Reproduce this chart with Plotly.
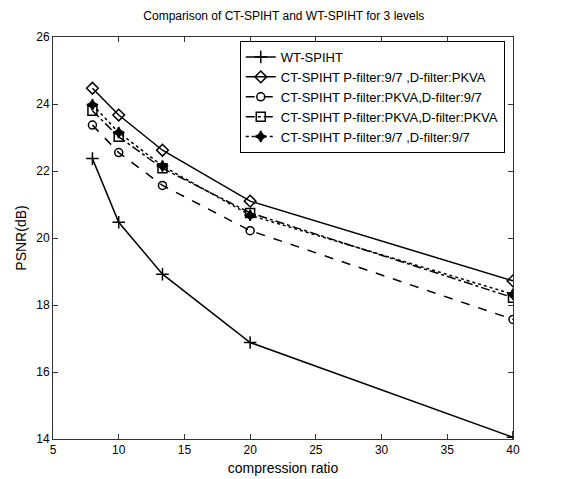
import plotly.graph_objects as go

# compression ratios
ratio = [8, 10, 13.33, 20, 40]

# PSNR(dB) for each method
wt_spiht = [22.37, 20.47, 18.92, 16.88, 14.05]
ct_97_pkva = [24.47, 23.67, 22.62, 21.10, 18.72]
ct_pkva_97 = [23.37, 22.55, 21.57, 20.22, 17.57]
ct_pkva_pkva = [23.80, 23.02, 22.08, 20.75, 18.22]
ct_97_97 = [23.98, 23.15, 22.15, 20.68, 18.32]

names = ["WT-SPIHT",
         "CT-SPIHT P-filter:9/7 ,D-filter:PKVA",
         "CT-SPIHT P-filter:PKVA,D-filter:9/7",
         "CT-SPIHT P-filter:PKVA,D-filter:PKVA",
         "CT-SPIHT P-filter:9/7 ,D-filter:9/7"]

series = [wt_spiht, ct_97_pkva, ct_pkva_97, ct_pkva_pkva, ct_97_97]
dashes = ["solid", "solid", "dash", "dashdot", "dot"]
symbols = ["cross-thin-open", "diamond-open", "circle-open", "square-open", "star-diamond"]
sizes = [9, 9, 8, 9, 8]

fig = go.Figure()
for name, y, d, s, sz in zip(names, series, dashes, symbols, sizes):
    fig.add_trace(go.Scatter(
        x=ratio, y=y, name=name, mode="lines+markers",
        line=dict(color="black", width=1.5, dash=d),
        marker=dict(symbol=s, size=sz, color="black",
                    line=dict(color="black", width=1.5)),
    ))

axis_style = dict(showline=True, linecolor="#333", linewidth=1, mirror="ticks",
                  ticks="inside", ticklen=5, tickcolor="#333", showgrid=False,
                  zeroline=False, automargin=False,
                  tickfont=dict(size=12, color="black"))

# the page body adds an 8px margin, so the figure is a bit smaller than the window
fig.update_layout(
    width=555, height=471,
    margin=dict(l=45, r=50, t=29, b=40),
    paper_bgcolor="white", plot_bgcolor="white",
    font=dict(family="Liberation Sans, Arial", size=12, color="black"),
    title=dict(text="Comparison of CT-SPIHT and WT-SPIHT for 3 levels",
               x=0.497, xanchor="center", y=0.992, yanchor="top",
               pad=dict(t=0), font=dict(size=12)),
    xaxis=dict(range=[5, 40], tickvals=[5, 10, 15, 20, 25, 30, 35, 40],
               title=dict(text="compression ratio", standoff=6), **axis_style),
    yaxis=dict(range=[14, 26], tickvals=[14, 16, 18, 20, 22, 24, 26],
               title=dict(text="PSNR(dB)", standoff=6), **axis_style),
    legend=dict(x=0.406, y=0.99, xanchor="left", yanchor="top",
                bordercolor="black", borderwidth=1, bgcolor="white",
                font=dict(size=13), tracegroupgap=0, itemwidth=30),
)

fig.write_html("out.html")
